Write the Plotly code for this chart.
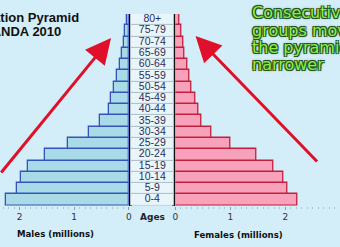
import plotly.graph_objects as go

W, H = 340, 247

ages = ["0-4", "5-9", "10-14", "15-19", "20-24", "25-29", "30-34", "35-39",
        "40-44", "45-49", "50-54", "55-59", "60-64", "65-69", "70-74", "75-79", "80+"]
males = [2.25, 2.05, 1.98, 1.84, 1.54, 1.12, 0.73, 0.52,
         0.37, 0.32, 0.27, 0.22, 0.16, 0.13, 0.095, 0.07, 0.04]
females = [2.21, 2.03, 1.97, 1.79, 1.47, 1.00, 0.66, 0.48,
           0.41, 0.36, 0.29, 0.25, 0.21, 0.17, 0.14, 0.11, 0.08]
tick_vals = [0, 1, 2]
tick_text = ["0", "1", "2"]
title_lines = ["Population Pyramid", "RWANDA 2010"]
note_lines = ["Consecutive age", "groups move up", "the pyramid, it gets", "narrower"]

def px(x):
    return x / W

def py(y):
    return 1 - y / H

BG = "#d3eef8"
y_dom = [py(205.5), py(13.9)]

fig = go.Figure()
fig.add_trace(go.Bar(x=males, y=ages, orientation="h", xaxis="x", yaxis="y",
                     marker=dict(color="#a8dbe7", line=dict(color="#3553b8", width=1.3)),
                     hoverinfo="skip"))
fig.add_trace(go.Bar(x=females, y=ages, orientation="h", xaxis="x2", yaxis="y2",
                     marker=dict(color="#f7a2ba", line=dict(color="#c41e3e", width=1.3)),
                     hoverinfo="skip"))
# center label column
fig.add_trace(go.Bar(x=[2] * len(ages), base=[-1] * len(ages), y=ages, orientation="h",
                     xaxis="x3", yaxis="y3",
                     marker=dict(color="#e8f5fa", line=dict(color="#aebfc8", width=1)),
                     hoverinfo="skip"))
fig.add_trace(go.Scatter(x=[0] * len(ages), y=ages, text=ages, mode="text",
                         xaxis="x3", yaxis="y3",
                         textfont=dict(family="Liberation Sans", size=10.5, color="#2b2d55"),
                         hoverinfo="skip"))

tickfont = dict(family="DejaVu Sans", size=9, color="#333333")
common_x = dict(showgrid=False, zeroline=False, tickvals=tick_vals, ticktext=tick_text,
                tickfont=tickfont, ticks="outside", ticklen=3, tickcolor="#8aa0a8",
                minor=dict(dtick=0.1, ticks="outside", ticklen=2, tickcolor="#b0c4cc"),
                showline=False, fixedrange=True)
common_y = dict(type="category", categoryorder="array", categoryarray=ages,
                range=[-0.5, len(ages) - 0.5], domain=y_dom, showgrid=False,
                zeroline=False, showticklabels=False, ticks="")

fig.update_layout(
    width=W, height=H, margin=dict(l=0, r=0, t=0, b=0),
    paper_bgcolor=BG, plot_bgcolor=BG, showlegend=False, bargap=0,
    xaxis=dict(domain=[0, px(128)], range=[128 / 55.5, 0], anchor="y", **common_x),
    xaxis2=dict(domain=[px(175.5), 1], range=[0, (W - 175.5) / 56], anchor="y2", **common_x),
    xaxis3=dict(domain=[px(129.5), px(174.5)], range=[-1, 1], anchor="y3",
                showgrid=False, zeroline=False, showticklabels=False, ticks="",
                showline=False),
    yaxis=dict(anchor="x", side="right", showline=True, linecolor="black", linewidth=2.5,
               **common_y),
    yaxis2=dict(anchor="x2", side="left", showline=True, linecolor="black", linewidth=2.5,
                **common_y),
    yaxis3=dict(anchor="x3", showline=False, **common_y),
)

ann = []
# title (clipped at the left edge, as in the reference)
ann.append(dict(text="<b>" + title_lines[0] + "</b>", x=px(79), y=py(17.5), xanchor="right",
                yanchor="middle", xref="paper", yref="paper", showarrow=False,
                font=dict(family="Liberation Sans", size=13, color="#111111")))
ann.append(dict(text="<b>" + title_lines[1] + "</b>", x=px(61), y=py(31.5), xanchor="right",
                yanchor="middle", xref="paper", yref="paper", showarrow=False,
                font=dict(family="Liberation Sans", size=13, color="#111111")))
# axis labels
ann.append(dict(text="<b>Males (millions)</b>", x=px(53), y=py(234), xanchor="center",
                yanchor="middle", xref="paper", yref="paper", showarrow=False,
                font=dict(family="DejaVu Sans", size=8.6, color="#111111")))
ann.append(dict(text="<b>Females (millions)</b>", x=px(240), y=py(235), xanchor="center",
                yanchor="middle", xref="paper", yref="paper", showarrow=False,
                font=dict(family="DejaVu Sans", size=8.6, color="#111111")))
ann.append(dict(text="<b>Ages</b>", x=px(152.5), y=py(217), xanchor="center",
                yanchor="middle", xref="paper", yref="paper", showarrow=False,
                font=dict(family="DejaVu Sans", size=9, color="#222222")))
# green note
outline = "#24521a"
shadow = (f"-1px -1px 0 {outline}, 1px -1px 0 {outline}, -1px 1px 0 {outline}, "
          f"1px 1px 0 {outline}, 0 0 3px {outline}")
note_y = [12.8, 31.0, 47.8, 64.5]
for line, yy in zip(note_lines, note_y):
    ann.append(dict(text=line, x=px(251), y=py(yy), xanchor="left", yanchor="middle",
                    xref="paper", yref="paper", showarrow=False,
                    font=dict(family="DejaVu Sans", size=16, color="#8cf048", shadow=shadow)))
# red arrows
ann.append(dict(text="", x=px(110), y=py(38), xref="paper", yref="paper", showarrow=True,
                ax=-130, ay=136, arrowhead=2, arrowsize=1.7, arrowwidth=3,
                arrowcolor="#e0102a"))
ann.append(dict(text="", x=px(196), y=py(36), xref="paper", yref="paper", showarrow=True,
                ax=123, ay=127, arrowhead=2, arrowsize=1.7, arrowwidth=3,
                arrowcolor="#e0102a"))
fig.update_layout(annotations=ann)

fig.write_html("out.html")
